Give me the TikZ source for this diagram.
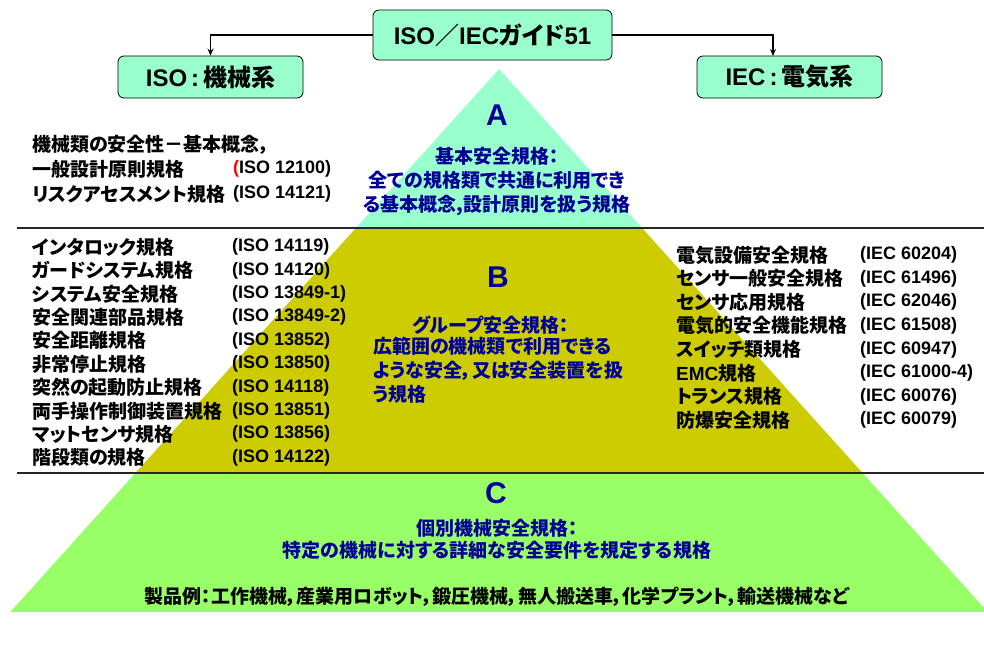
\documentclass[tikz,border=0pt]{standalone}
\usepackage{fontspec}
\setmainfont{Noto Sans CJK JP}[RawFeature=+palt]
\newfontfamily\lat{Liberation Sans}
\usetikzlibrary{arrows.meta,positioning}
\definecolor{pyrA}{RGB}{153,255,204}
\definecolor{pyrB}{RGB}{204,204,0}
\definecolor{pyrC}{RGB}{153,255,102}
\definecolor{navyblue}{RGB}{0,0,150}
\newcommand{\la}[1]{{\lat #1}}
\tikzset{
    topbox/.style={draw=black, line width=0.8pt, fill=pyrA, rounded corners=6pt, inner sep=0pt, font=\bfseries\fontsize{24}{26}\selectfont},
    link/.style={line width=1.6pt, -{Stealth[length=7pt,width=6pt]}},
    sepline/.style={line width=1.6pt, black!85},
    item/.style={anchor=west, inner sep=0pt, font=\bfseries\fontsize{19}{22}\selectfont},
    code/.style={anchor=west, inner sep=0pt, font=\lat\bfseries\fontsize{18}{22}\selectfont},
    bluetext/.style={inner sep=0pt, text=navyblue, font=\bfseries\fontsize{19}{24}\selectfont},
    letter/.style={inner sep=0pt, text=navyblue, font=\lat\bfseries\fontsize{30}{30}\selectfont}
}
\begin{document}
\begin{tikzpicture}[x=1pt, y=-1pt]
    \useasboundingbox (0,0) rectangle (984,645);

    % pyramid
    \fill[pyrA] (499,69) -- (642.1,228) -- (355.9,228) -- cycle;
    \fill[pyrB] (355.9,228) -- (642.1,228) -- (862.6,473) -- (135.4,473) -- cycle;
    \fill[pyrC] (135.4,473) -- (862.6,473) -- (987.7,612) -- (10.3,612) -- cycle;
    \draw[sepline] (17,228) -- (984,228);
    \draw[sepline] (17,473) -- (984,473);

    % top boxes
    \node[topbox, minimum width=239pt, minimum height=50pt] (guide) at (492.5,35) {\la{ISO}／\la{IEC}ガイド\la{51}};
    \node[topbox, minimum width=185pt, minimum height=42pt] (iso) at (210.5,77) {\la{ISO\,:\,}機械系};
    \node[topbox, minimum width=185pt, minimum height=42pt] (iec) at (789.5,77) {\la{IEC\,:\,}電気系};
    \coordinate (ieclink) at (773,56);
    \draw[link] (guide.west) -| (iso.north);
    \draw[link] (guide.east) -| (ieclink);

    % A
    \node[letter] (la) at (497,115) {A};
    \node[bluetext, align=center] (ta) at (497,181) {基本安全規格：\\全ての規格類で共通に利用でき\\る基本概念,設計原則を扱う規格};
    \node[item] (a1) at (32,145) {機械類の安全性－基本概念，};
    \node[item] (a2) at (32,169) {一般設計原則規格};
    \node[code] (ac2) at (233,169) {{\color{red}(}ISO 12100)};
    \node[item] (a3) at (32,194) {リスクアセスメント規格};
    \node[code] (ac3) at (233,194) {(ISO 14121)};

    % B
    \node[letter] (lb) at (498,277) {B};
    \node[bluetext, anchor=west] (tb) at (412,325) {グループ安全規格：};
    \node[bluetext, anchor=north west, align=left] (bb) at (373,337) {広範囲の機械類で利用できる\\ような安全，又は安全装置を扱\\う規格};
    \foreach \name/\num [count=\i] in {インタロック規格/14119, ガードシステム規格/14120, システム安全規格/13849-1, 安全関連部品規格/13849-2, 安全距離規格/13852, 非常停止規格/13850, 突然の起動防止規格/14118, 両手操作制御装置規格/13851, マットセンサ規格/13856, 階段類の規格/14122}
    {
        \node[item] (b\i) at (32,{247+23.4*(\i-1)}) {\name};
        \node[code] (bc\i) at (232,{247+23.4*(\i-1)}) {(ISO \num)};
    }
    \foreach \name/\num [count=\i] in {電気設備安全規格/60204, センサ一般安全規格/61496, センサ応用規格/62046, 電気的安全機能規格/61508, スイッチ類規格/60947, \la{EMC}規格/61000-4, トランス規格/60076, 防爆安全規格/60079}
    {
        \node[item] (e\i) at (676,{255+23.6*(\i-1)}) {\name};
        \node[code] (ec\i) at (860,{255+23.6*(\i-1)}) {(IEC \num)};
    }

    % C
    \node[letter] (lc) at (496,493) {C};
    \node[bluetext, align=center, font=\bfseries\fontsize{19}{22}\selectfont] (tc) at (497,539) {個別機械安全規格：\\特定の機械に対する詳細な安全要件を規定する規格};
    \node[item, anchor=center] (ex) at (497,597) {製品例：工作機械，産業用ロボット，鍛圧機械，無人搬送車，化学プラント，輸送機械など};
\end{tikzpicture}
\end{document}
